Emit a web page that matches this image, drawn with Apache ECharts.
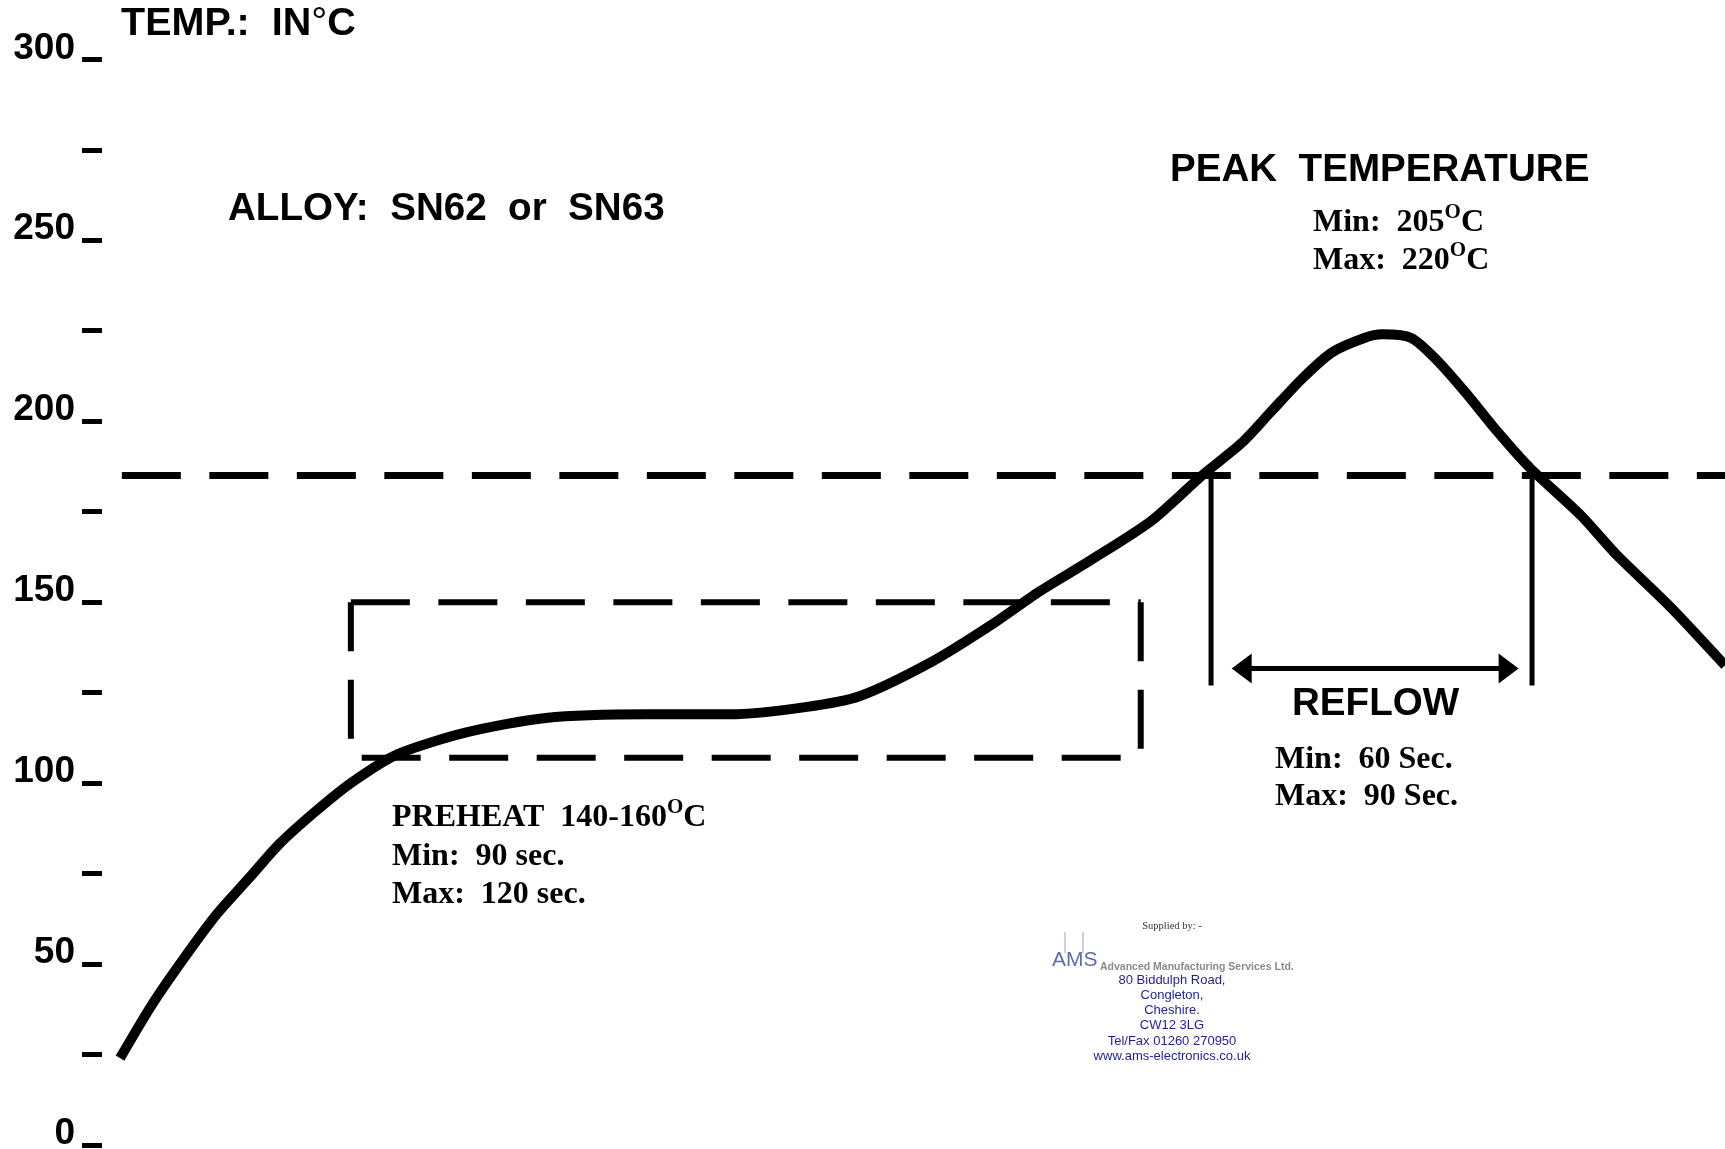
<!DOCTYPE html>
<html>
<head>
<meta charset="utf-8">
<title>Reflow profile SN62 / SN63</title>
<script src="https://cdn.jsdelivr.net/npm/echarts@6/dist/echarts.min.js"></script>
<style>
  html, body { margin: 0; padding: 0; background: #fff; }
  #chart { width: 1725px; height: 1149px; }
</style>
</head>
<body>
<div id="chart"></div>
<script>
// time in seconds (x axis is not drawn in the original), temperature in deg C
var timeSec = [5, 14, 23, 32, 41, 49, 59, 69, 82, 101, 123, 151, 174, 195, 210, 230, 247, 260, 274,
  291, 305, 316, 324, 333, 341, 350, 355, 363, 370, 378, 387, 396, 410, 420, 435, 450];
var tempC = [24, 39, 52, 64, 74, 83, 92, 100, 108, 114, 118, 119, 119, 121, 124, 133.5, 144, 153, 161.5,
  172.5, 185, 194, 202.5, 212, 219, 223, 224, 223, 217, 208, 197, 187, 174, 163, 148.5, 132.5];

var yTickLabels = [0, 50, 100, 150, 200, 250, 300]; // unlabelled ticks every 25 in between

var liquidusTemp = 185;            // long dashed line
var liquidusFrom = 5.5, liquidusTo = 450;
var preheatTime = [69, 288];       // dashed box
var preheatBottomStart = 72;
var preheatTemp = [107, 150];
var reflowTime = [307.5, 396.5];   // the two vertical lines
var reflowLineTemp = [185, 127];
var reflowArrowTime = [316, 390];
var reflowArrowTemp = 131.7;

var chart = echarts.init(document.getElementById('chart'));

var points = timeSec.map(function (t, i) { return [t, tempC[i]]; });

var DASH = [59, 28.5];
function seg(data, width, dash, offset) {
  return {
    type: 'line',
    data: data,
    symbol: 'none',
    silent: true,
    lineStyle: { color: '#000', width: width, type: dash || 'solid', dashOffset: offset || 0, cap: 'butt' },
    z: 2
  };
}

var SANS = 'Liberation Sans';
var SERIF = 'Liberation Serif';
var BIG = 38.6;
var serifMain = { fontFamily: SERIF, fontWeight: 'bold', fontSize: 32, fill: '#000' };
// superscript "O": padding at the bottom lifts the glyph by half of it
var supStyle = { fontFamily: SERIF, fontWeight: 'bold', fontSize: 21, padding: [0, 0, 20, 0], fill: '#000' };

function bigText(str, x, y) {
  return {
    type: 'text', x: x, y: y, silent: true,
    style: { text: str, fontFamily: SANS, fontWeight: 'bold', fontSize: BIG, fill: '#000', align: 'left', verticalAlign: 'middle' }
  };
}
function serifText(str, x, y) {
  return {
    type: 'text', x: x, y: y, silent: true,
    style: {
      text: str, fontFamily: SERIF, fontWeight: 'bold', fontSize: 32, fill: '#000',
      align: 'left', verticalAlign: 'middle',
      rich: { m: serifMain, sup: supStyle }
    }
  };
}
function smallText(str, x, y, opts) {
  return {
    type: 'text', x: x, y: y, silent: true,
    style: Object.assign({ text: str, align: 'center', verticalAlign: 'middle' }, opts)
  };
}

var address = ['80 Biddulph Road,', 'Congleton,', 'Cheshire.', 'CW12 3LG', 'Tel/Fax 01260 270950', 'www.ams-electronics.co.uk'];

var graphics = [
  {
    type: 'text', x: 121, y: 24, silent: true,
    style: {
      text: '{m|TEMP.:  IN}{d|°}{m|C}', align: 'left', verticalAlign: 'middle',
      rich: {
        m: { fontFamily: SANS, fontWeight: 'bold', fontSize: 39.5, fill: '#000' },
        d: { fontFamily: SANS, fontWeight: 'normal', fontSize: 40, fill: '#000' }
      }
    }
  },
  bigText('ALLOY:  SN62  or  SN63', 228, 209),
  bigText('PEAK  TEMPERATURE', 1170, 170),
  bigText('REFLOW', 1292, 704),
  serifText('{m|Min:  205}{sup|O}{m|C}', 1313, 223),
  serifText('{m|Max:  220}{sup|O}{m|C}', 1313, 261),
  serifText('{m|PREHEAT  140-160}{sup|O}{m|C}', 392, 818),
  serifText('Min:  90 sec.', 392, 857),
  serifText('Max:  120 sec.', 392, 895),
  serifText('Min:  60 Sec.', 1275, 760),
  serifText('Max:  90 Sec.', 1275, 797),
  smallText('Supplied by: -', 1172, 926, { fontFamily: SERIF, fontSize: 10.5, fill: '#333' }),
  { type: 'line', silent: true, shape: { x1: 1065, y1: 932, x2: 1065, y2: 953 }, style: { stroke: '#9aa3b8', lineWidth: 1 } },
  { type: 'line', silent: true, shape: { x1: 1083, y1: 932, x2: 1083, y2: 953 }, style: { stroke: '#9aa3b8', lineWidth: 1 } },
  smallText('AMS', 1052, 960, { align: 'left', fontFamily: SANS, fontSize: 21, fill: '#5d6fa6' }),
  smallText('Advanced Manufacturing Services Ltd.', 1100, 967, { align: 'left', fontFamily: SANS, fontWeight: 'bold', fontSize: 10.5, fill: '#8a8a8a' })
];
address.forEach(function (line, i) {
  graphics.push(smallText(line, 1172, 980 + i * 15.3, { fontFamily: SANS, fontSize: 13, fill: '#1f1f96' }));
});

var option = {
  animation: false,
  backgroundColor: '#fff',
  grid: { left: 102, right: 0, top: 59.3, bottom: 4, containLabel: false, outerBoundsMode: 'none' },
  xAxis: { type: 'value', min: 0, max: 450, show: false },
  yAxis: {
    type: 'value', min: 0, max: 300, interval: 25, position: 'left',
    axisLine: { show: false },
    splitLine: { show: false },
    axisTick: { show: true, length: 20, lineStyle: { color: '#000', width: 5 } },
    axisLabel: {
      margin: 27, color: '#000', fontFamily: SANS, fontWeight: 'bold', fontSize: 37,
      verticalAlign: 'bottom', lineHeight: 22,
      formatter: function (v) { return yTickLabels.indexOf(v) >= 0 ? String(v) : ''; }
    }
  },
  series: [
    seg([[liquidusFrom, liquidusTemp], [liquidusTo, liquidusTemp]], 7, DASH),
    seg([[preheatTime[0], preheatTemp[1]], [preheatTime[1], preheatTemp[1]]], 6, DASH),
    seg([[preheatTime[1], preheatTemp[1]], [preheatTime[1], preheatTemp[0]]], 6, DASH),
    seg([[preheatBottomStart, preheatTemp[0]], [preheatTime[1], preheatTemp[0]]], 6, DASH),
    seg([[preheatTime[0], preheatTemp[1]], [preheatTime[0], preheatTemp[0]]], 6, DASH, 10),
    seg([[reflowTime[0], reflowLineTemp[0]], [reflowTime[0], reflowLineTemp[1]]], 5),
    seg([[reflowTime[1], reflowLineTemp[0]], [reflowTime[1], reflowLineTemp[1]]], 5),
    {
      type: 'line', data: [], symbol: 'none', silent: true,
      markLine: {
        silent: true, symbol: ['triangle', 'triangle'], symbolSize: [30, 20],
        label: { show: false },
        lineStyle: { color: '#000', width: 5, type: 'solid' },
        data: [[{ coord: [reflowArrowTime[0], reflowArrowTemp] }, { coord: [reflowArrowTime[1], reflowArrowTemp] }]]
      }
    },
    {
      type: 'line', data: points, symbol: 'none', silent: true,
      smooth: 0.25,
      lineStyle: { color: '#000', width: 10, cap: 'butt', join: 'round' },
      z: 3
    }
  ],
  graphic: graphics
};
chart.setOption(option);
</script>
</body>
</html>
